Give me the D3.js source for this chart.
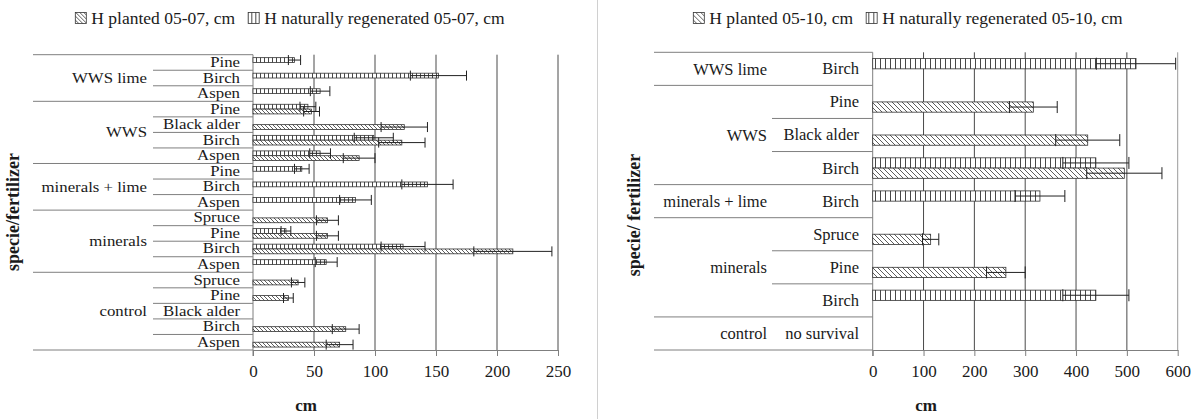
<!DOCTYPE html>
<html>
<head>
<meta charset="utf-8">
<script src="https://cdn.jsdelivr.net/npm/d3@7"></script>
<style>
  body { margin: 0; background: #fff; }
</style>
</head>
<body>
<div id="chart"></div>
<script>
// ---- left chart (05-07) ----
const leftGroup = ["WWS lime", "WWS lime", "WWS lime", "WWS", "WWS", "WWS", "WWS",
  "minerals + lime", "minerals + lime", "minerals + lime",
  "minerals", "minerals", "minerals", "minerals",
  "control", "control", "control", "control", "control"];
const leftSpecies = ["Pine", "Birch", "Aspen", "Pine", "Black alder", "Birch", "Aspen",
  "Pine", "Birch", "Aspen", "Spruce", "Pine", "Birch", "Aspen",
  "Spruce", "Pine", "Black alder", "Birch", "Aspen"];
const leftPlanted    = [null, null, null, 48, 124, 122, 87, null, null, null, 61, 61, 213, null, 37, 29, null, 76, 71];
const leftPlantedErr = [null, null, null, 6.5, 19, 19, 13, null, null, null, 9, 9, 32, null, 5.5, 4, null, 11, 11];
const leftNatural    = [34, 152, 55, 45, null, 99, 55, 40, 143, 84, null, 27, 123, 60, null, null, null, null, null];
const leftNaturalErr = [5, 23, 8, 6.5, null, 16, 8.5, 6, 21, 13, null, 4, 18, 9, null, null, null, null, null];
const leftTicks = [0, 50, 100, 150, 200, 250];
const leftLegend = ["H planted 05-07, cm", "H naturally regenerated 05-07, cm"];

// ---- right chart (05-10) ----
const rightGroup = ["WWS lime", "WWS", "WWS", "WWS", "minerals + lime",
  "minerals", "minerals", "minerals", "control"];
const rightSpecies = ["Birch", "Pine", "Black alder", "Birch", "Birch",
  "Spruce", "Pine", "Birch", "no survival"];
const rightPlanted    = [null, 316, 423, 495, null, 114, 262, null, null];
const rightPlantedErr = [null, 47, 63, 74, null, 16, 38, null, null];
const rightNatural    = [518, null, null, 439, 329, null, null, 439, null];
const rightNaturalErr = [78, null, null, 65, 49, null, null, 65, null];
const rightTicks = [0, 100, 200, 300, 400, 500, 600];
const rightLegend = ["H planted 05-10, cm", "H naturally regenerated 05-10, cm"];

const width = 1199, height = 419;
const serif = "'Liberation Serif', 'Times New Roman', Times, serif";

const svg = d3.select("#chart")
  .append("svg")
  .attr("width", width)
  .attr("height", height)
  .attr("font-family", serif);

const defs = svg.append("defs");

// hatch patterns: diagonal for planted, vertical lines for natural
function makePatterns(id, s) {
  const diag = defs.append("pattern")
    .attr("id", "diag-" + id)
    .attr("patternUnits", "userSpaceOnUse")
    .attr("width", s).attr("height", s);
  diag.append("rect").attr("width", s).attr("height", s).attr("fill", "#fff");
  diag.append("path")
    .attr("d", `M0,0L${s},${s}M${s - 1},-1L${s + 1},1M-1,${s - 1}L1,${s + 1}`)
    .attr("stroke", "#333").attr("stroke-width", 0.8);

  const vert = defs.append("pattern")
    .attr("id", "vert-" + id)
    .attr("patternUnits", "userSpaceOnUse")
    .attr("width", s).attr("height", s);
  vert.append("rect").attr("width", s).attr("height", s).attr("fill", "#fff");
  vert.append("path")
    .attr("d", `M0.5,0V${s}`)
    .attr("stroke", "#333").attr("stroke-width", 0.9);
}
makePatterns("l", 4);
makePatterns("r", 5);

// divider between the two panels
svg.append("line")
  .attr("x1", 597.5).attr("x2", 597.5)
  .attr("y1", 0).attr("y2", height)
  .attr("stroke", "#d0d0d0");

function addText(sel) {
  return sel.append("text")
    .attr("font-family", serif)
    .attr("fill", "#1a1a1a");
}

function drawPanel(cfg) {
  const n = cfg.species.length;
  const g = svg.append("g");

  const x = d3.scaleLinear()
    .domain([0, cfg.ticks[cfg.ticks.length - 1]])
    .range([cfg.x0, cfg.x1]);

  const y = d3.scaleBand()
    .domain(d3.range(n))
    .range([cfg.top, cfg.bottom]);

  const bh = y.bandwidth() * 0.31;

  // gridlines
  g.append("g")
    .selectAll("line")
    .data(cfg.ticks.slice(1))
    .enter()
    .append("line")
    .attr("x1", d => x(d)).attr("x2", d => x(d))
    .attr("y1", cfg.top).attr("y2", cfg.bottom)
    .attr("stroke", (d, i) => (cfg.lightLast && i === cfg.ticks.length - 2) ? "#9a9a9a" : "#4a4a4a")
    .attr("stroke-width", 1);

  // bottom axis
  const axis = g.append("g")
    .attr("transform", `translate(0,${cfg.bottom})`)
    .call(d3.axisBottom(x).tickValues(cfg.ticks).tickSize(6).tickSizeOuter(0))
    .attr("font-family", serif)
    .attr("font-size", 17);
  axis.select(".domain").attr("stroke", "#7f7f7f");
  axis.selectAll(".tick line").attr("stroke", "#7f7f7f");
  axis.selectAll("text")
    .attr("y", 27).attr("dy", null)
    .attr("fill", "#1a1a1a");

  // vertical category axis line
  g.append("line")
    .attr("x1", cfg.x0).attr("x2", cfg.x0)
    .attr("y1", cfg.top).attr("y2", cfg.bottom + 6)
    .attr("stroke", "#7f7f7f");

  // group and inner separators
  for (let i = 0; i <= n; i++) {
    const yy = i === n ? cfg.bottom : y(i);
    const newGroup = i === 0 || i === n || cfg.group[i] !== cfg.group[i - 1];
    g.append("line")
      .attr("x1", newGroup ? cfg.groupLineX : cfg.innerLineX)
      .attr("x2", cfg.x0)
      .attr("y1", yy).attr("y2", yy)
      .attr("stroke", "#7f7f7f");
  }

  // inner labels (left panel text is a little wider than tall, as in the source)
  cfg.species.forEach((d, i) => {
    addText(g)
      .attr("transform", `translate(${cfg.innerLabelX},${y(i) + y.bandwidth() / 2 + cfg.labelDy}) scale(${cfg.labelScale},1)`)
      .attr("text-anchor", "end")
      .attr("font-size", cfg.fontSize)
      .text(d);
  });

  // group labels
  const groups = [...new Set(cfg.group)];
  groups.forEach(name => {
    const idx = cfg.group.map((d, i) => d === name ? i : -1).filter(i => i >= 0);
    const y0 = y(idx[0]);
    const y1 = y(idx[idx.length - 1]) + y.bandwidth();
    addText(g)
      .attr("transform", `translate(${cfg.groupLabelX},${(y0 + y1) / 2 + cfg.labelDy + 0.5}) scale(${cfg.labelScale},1)`)
      .attr("text-anchor", "end")
      .attr("font-size", cfg.fontSize)
      .text(name);
  });

  // bars
  const bars = [];
  d3.range(n).forEach(i => {
    const c = y(i) + y.bandwidth() / 2;
    if (cfg.natural[i] != null) bars.push({ v: cfg.natural[i], e: cfg.naturalErr[i], y: c - bh, kind: "vert" });
    if (cfg.planted[i] != null) bars.push({ v: cfg.planted[i], e: cfg.plantedErr[i], y: c, kind: "diag" });
  });

  g.append("g")
    .selectAll("rect")
    .data(bars)
    .enter()
    .append("rect")
    .attr("x", x(0))
    .attr("y", d => d.y)
    .attr("width", d => x(d.v) - x(0))
    .attr("height", bh)
    .attr("fill", d => `url(#${d.kind}-${cfg.id})`)
    .attr("stroke", "#333")
    .attr("stroke-width", 0.8);

  // error bars
  const err = g.append("g").attr("stroke", "#222").attr("stroke-width", 1);
  bars.forEach(d => {
    const cy = d.y + bh / 2;
    err.append("line")
      .attr("x1", x(d.v - d.e)).attr("x2", x(d.v + d.e))
      .attr("y1", cy).attr("y2", cy);
    [d.v - d.e, d.v + d.e].forEach(v => {
      err.append("line")
        .attr("x1", x(v)).attr("x2", x(v))
        .attr("y1", cy - cfg.cap).attr("y2", cy + cfg.cap);
    });
  });

  // legend, laid out in a row and centred
  const lg = g.append("g");
  let cx = 0;
  cfg.legend.forEach((label, i) => {
    const kind = i === 0 ? "diag" : "vert";
    lg.append("rect")
      .attr("x", cx).attr("y", 12.5)
      .attr("width", 11).attr("height", 11)
      .attr("fill", `url(#${kind}-${cfg.id})`)
      .attr("stroke", "#333").attr("stroke-width", 0.8);
    const t = addText(lg)
      .attr("x", cx + 16).attr("y", 24)
      .attr("font-size", cfg.legendFont)
      .text(label);
    cx += 16 + t.node().getComputedTextLength() + 13;
  });
  const total = cx - 13;
  lg.attr("transform", `translate(${cfg.legendCenter - total / 2},0)`);

  // axis titles
  addText(g)
    .attr("transform", `translate(${cfg.yTitleX},${cfg.yTitleY}) rotate(-90)`)
    .attr("text-anchor", "middle")
    .attr("font-size", 18)
    .attr("font-weight", "bold")
    .text(cfg.yTitle);

  addText(g)
    .attr("x", cfg.cmX).attr("y", 411)
    .attr("text-anchor", "middle")
    .attr("font-size", 17)
    .attr("font-weight", "bold")
    .text("cm");
}

drawPanel({
  id: "l",
  group: leftGroup, species: leftSpecies,
  planted: leftPlanted, plantedErr: leftPlantedErr,
  natural: leftNatural, naturalErr: leftNaturalErr,
  ticks: leftTicks, legend: leftLegend,
  x0: 253, x1: 558, top: 54.7, bottom: 350,
  groupLineX: 33, innerLineX: 153,
  groupLabelX: 147, innerLabelX: 240,
  fontSize: 15, labelScale: 1.12, labelDy: 4.5, cap: 5,
  legendCenter: 290, legendFont: 17.5,
  yTitle: "specie/fertilizer", yTitleX: 19, yTitleY: 212,
  cmX: 306, lightLast: false
});

drawPanel({
  id: "r",
  group: rightGroup, species: rightSpecies,
  planted: rightPlanted, plantedErr: rightPlantedErr,
  natural: rightNatural, naturalErr: rightNaturalErr,
  ticks: rightTicks, legend: rightLegend,
  x0: 872.7, x1: 1177.7, top: 52.3, bottom: 350,
  groupLineX: 654, innerLineX: 772,
  groupLabelX: 767, innerLabelX: 859,
  fontSize: 16.5, labelScale: 1, labelDy: 5.5, cap: 6,
  legendCenter: 908, legendFont: 17.5,
  yTitle: "specie/ fertilizer", yTitleX: 640, yTitleY: 215,
  cmX: 926, lightLast: true
});
</script>
</body>
</html>
